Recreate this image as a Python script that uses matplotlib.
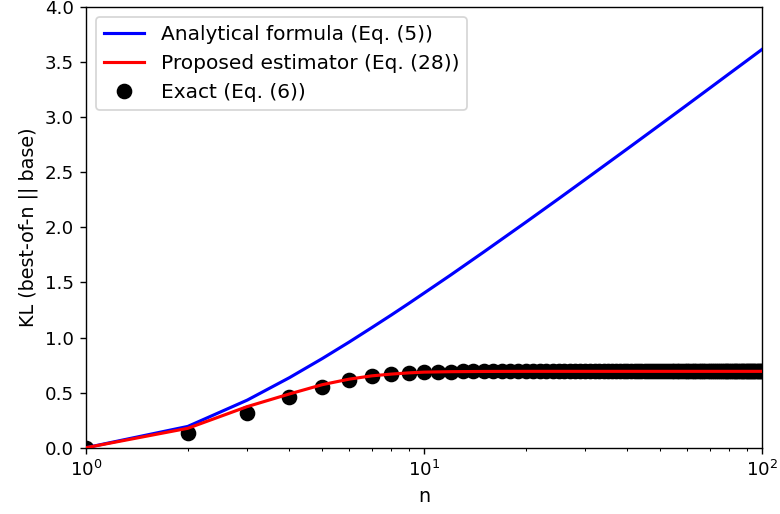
import numpy as np
import matplotlib
matplotlib.use('Agg')
import matplotlib.pyplot as plt

# Analytical formula (Eq. (5)) -- read at a few n values
n_analytic = [1, 2, 3, 4, 5, 6, 7, 8, 9, 10, 12, 15, 20, 25, 30, 40, 50, 60, 70, 80, 90, 100]
kl_analytic = [0.0, 0.193, 0.432, 0.636, 0.809, 0.958, 1.089, 1.204, 1.308, 1.403,
               1.568, 1.775, 2.046, 2.259, 2.435, 2.714, 2.932, 3.111, 3.263, 3.395,
               3.511, 3.615]

# Proposed estimator (Eq. (28))
n_estimator = [1, 2, 3, 4, 5, 6, 7, 8, 9, 10, 12, 15, 20, 30, 50, 100]
kl_estimator = [0.0, 0.176, 0.373, 0.488, 0.572, 0.622, 0.652, 0.668, 0.679, 0.686,
                0.690, 0.692, 0.693, 0.693, 0.693, 0.693]

# Exact (Eq. (6)), one dot for every n = 1..100
n_exact = list(range(1, 101))
kl_exact = [0.000, 0.131, 0.316, 0.459, 0.554, 0.613, 0.648, 0.668, 0.679, 0.685,
            0.689, 0.691, 0.692, 0.692, 0.693, 0.693, 0.693, 0.693, 0.693, 0.693,
            0.693, 0.693, 0.693, 0.693, 0.693, 0.693, 0.693, 0.693, 0.693, 0.693,
            0.693, 0.693, 0.693, 0.693, 0.693, 0.693, 0.693, 0.693, 0.693, 0.693,
            0.693, 0.693, 0.693, 0.693, 0.693, 0.693, 0.693, 0.693, 0.693, 0.693,
            0.693, 0.693, 0.693, 0.693, 0.693, 0.693, 0.693, 0.693, 0.693, 0.693,
            0.693, 0.693, 0.693, 0.693, 0.693, 0.693, 0.693, 0.693, 0.693, 0.693,
            0.693, 0.693, 0.693, 0.693, 0.693, 0.693, 0.693, 0.693, 0.693, 0.693,
            0.693, 0.693, 0.693, 0.693, 0.693, 0.693, 0.693, 0.693, 0.693, 0.693,
            0.693, 0.693, 0.693, 0.693, 0.693, 0.693, 0.693, 0.693, 0.693, 0.693]

fig = plt.figure(figsize=(6.24, 4.112), dpi=125)
ax = fig.add_axes([86 / 780, 1 - 447.7 / 514, (762 - 86) / 780, (447.7 - 7) / 514])

ax.plot(n_analytic, kl_analytic, color='blue', lw=1.8, zorder=3,
        label='Analytical formula (Eq. (5))')
ax.plot(n_estimator, kl_estimator, color='red', lw=1.8, zorder=3,
        label='Proposed estimator (Eq. (28))')
ax.plot(n_exact, kl_exact, 'o', color='black', markersize=8, zorder=2,
        label='Exact (Eq. (6))')

ax.set_xscale('log')
ax.set_xlim(1, 100)
ax.set_ylim(0, 4)
ax.set_xlabel('n', fontsize=11)
ax.set_ylabel('KL (best-of-n || base)', fontsize=11)
ax.tick_params(labelsize=10.5)
ax.legend(loc='upper left', fontsize=11.6)

fig.savefig('out.png', dpi=125)
